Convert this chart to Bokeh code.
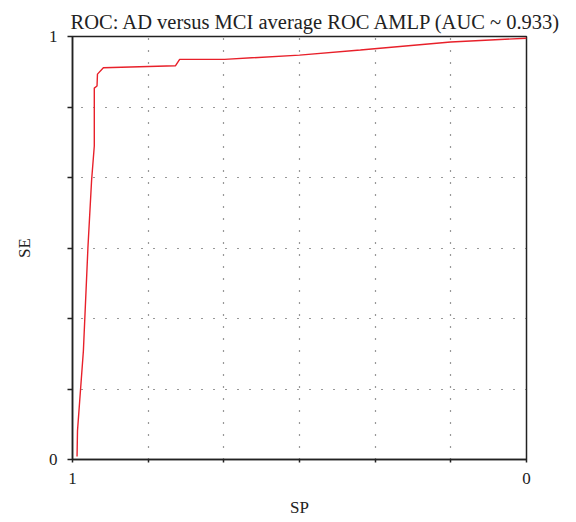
from bokeh.plotting import figure
from bokeh.models import Range1d, FixedTicker
from bokeh.embed import file_html
from bokeh.resources import INLINE

# Data: specificity (SP) vs sensitivity (SE)
sp = [0.990, 0.989, 0.976, 0.966, 0.958, 0.952, 0.952, 0.946, 0.945, 0.932,
      0.773, 0.764, 0.665, 0.500, 0.366, 0.167, 0.000]
se = [0.007, 0.068, 0.257, 0.501, 0.659, 0.741, 0.878, 0.883, 0.911, 0.926,
      0.931, 0.946, 0.946, 0.956, 0.968, 0.987, 0.996]
grid_ticks = [0, 1/6, 2/6, 3/6, 4/6, 5/6, 1]
title_text = "ROC: AD versus MCI average ROC AMLP (AUC ~ 0.933)"

FONT = "Liberation Serif"

p = figure(width=570, height=522, output_backend="svg", toolbar_location=None,
           x_range=Range1d(1, 0), y_range=Range1d(0, 1),
           min_border_left=72, min_border_right=44, min_border_top=36,
           min_border_bottom=63)
p.background_fill_color = "white"
p.border_fill_color = "white"
p.outline_line_color = "#222222"
p.outline_line_width = 1.5

p.title.text = title_text
p.title.text_font = FONT
p.title.text_font_size = "20.5px"
p.title.text_font_style = "normal"
p.title.text_color = "#222222"
p.title.align = "left"
p.title.offset = -2
p.title.standoff = 8

p.line(sp, se, line_color="#e8202a", line_width=1.4)

labels = {t: "" for t in grid_ticks}
labels[0] = "0"
labels[1] = "1"

for ax in (p.xaxis[0], p.yaxis[0]):
    ax.ticker = FixedTicker(ticks=grid_ticks)
    ax.major_label_overrides = labels
    ax.minor_tick_line_color = None
    ax.axis_line_color = "#222222"
    ax.axis_line_width = 1.5
    ax.major_tick_line_color = "#222222"
    ax.major_tick_line_width = 1.5
    ax.major_tick_in = 0
    ax.major_label_text_font = FONT
    ax.major_label_text_font_size = "17px"
    ax.major_label_text_color = "#222222"
    ax.axis_label_text_font = FONT
    ax.axis_label_text_font_size = "17px"
    ax.axis_label_text_font_style = "normal"
    ax.axis_label_text_color = "#222222"

p.xaxis.axis_label = "SP"
p.yaxis.axis_label = "SE"
p.yaxis.major_tick_out = 5
p.yaxis.major_label_standoff = 10
p.yaxis.major_label_orientation = 0
p.yaxis.axis_label_standoff = 12
p.xaxis.major_tick_out = 3
p.xaxis.major_label_standoff = 10
p.xaxis.axis_label_standoff = 11

for g in (p.xgrid[0], p.ygrid[0]):
    g.ticker = FixedTicker(ticks=grid_ticks[1:-1])
    g.grid_line_color = "#333333"
    g.grid_line_width = 1.2
    g.grid_line_dash = "1 11"

open("out.html", "w").write(file_html(p, INLINE))
